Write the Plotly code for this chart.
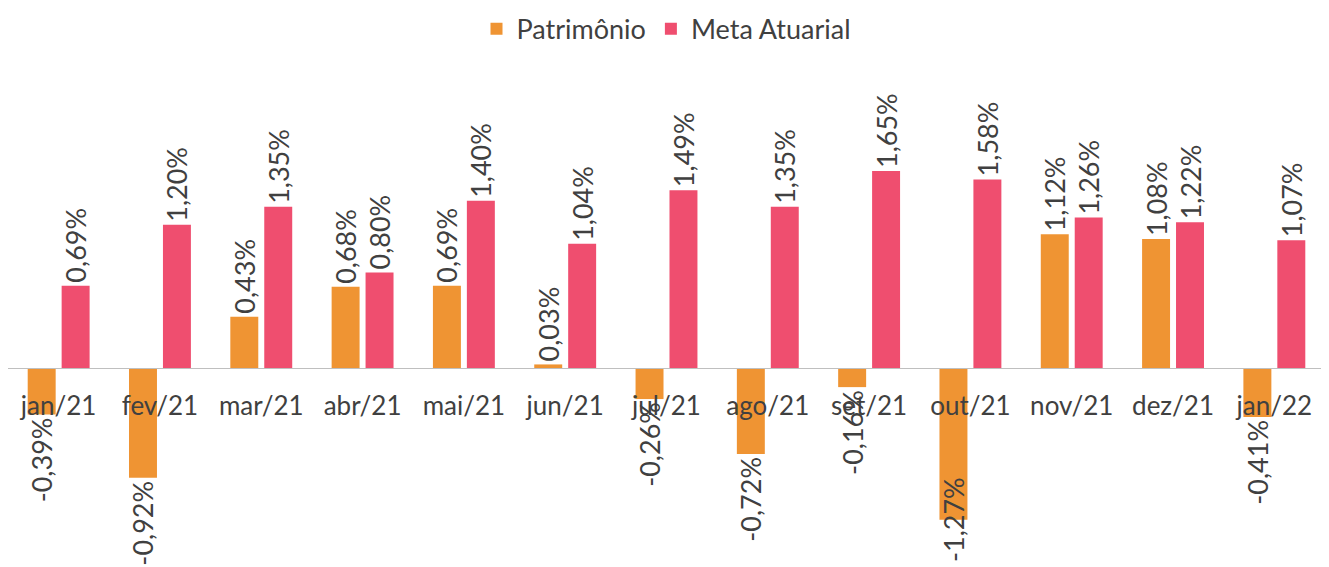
import plotly.graph_objects as go

categories = ["jan/21", "fev/21", "mar/21", "abr/21", "mai/21", "jun/21", "jul/21",
              "ago/21", "set/21", "out/21", "nov/21", "dez/21", "jan/22"]
patrimonio = [-0.39, -0.92, 0.43, 0.68, 0.69, 0.03, -0.26, -0.72, -0.16, -1.27, 1.12, 1.08, -0.41]
meta_atuarial = [0.69, 1.20, 1.35, 0.80, 1.40, 1.04, 1.49, 1.35, 1.65, 1.58, 1.26, 1.22, 1.07]

def fmt(v):
    return f"{v:.2f}".replace(".", ",") + "%"

FONT = "Lato"
TXT = "#404040"
FS_VAL = 27
FS_CAT = 26

# the deepest label would run off the chart; it is drawn as an annotation centred on the bar end
clip_idx = patrimonio.index(min(patrimonio))
pat_text = [fmt(v) if i != clip_idx else "" for i, v in enumerate(patrimonio)]

fig = go.Figure()
fig.add_trace(go.Bar(
    name="Patrimônio", x=categories, y=patrimonio,
    marker=dict(color="#EF9433", line=dict(width=0)),
    text=pat_text, textposition="outside", textangle=-90,
    constraintext="none",
    textfont=dict(family=FONT, size=FS_VAL, color=TXT), cliponaxis=False,
))
fig.add_trace(go.Bar(
    name="Meta Atuarial", x=categories, y=meta_atuarial,
    marker=dict(color="#EF4E6F", line=dict(width=0)),
    text=[fmt(v) for v in meta_atuarial], textposition="outside", textangle=-90,
    constraintext="none",
    textfont=dict(family=FONT, size=FS_VAL, color=TXT), cliponaxis=False,
))

fig.add_annotation(
    x=categories[clip_idx], y=patrimonio[clip_idx], xref="x", yref="y",
    text=fmt(patrimonio[clip_idx]), showarrow=False, textangle=-90,
    xanchor="center", yanchor="middle", xshift=-17, yshift=0,
    font=dict(family=FONT, size=FS_VAL, color=TXT),
)

ymin, ymax = -1.583, 2.58
zero_pos = (0 - ymin) / (ymax - ymin)

fig.update_layout(
    width=1329, height=567,
    margin=dict(l=0, r=12, t=52, b=18, autoexpand=False),
    paper_bgcolor="white", plot_bgcolor="white",
    barmode="group", bargap=0.33, bargroupgap=0.176,
    font=dict(family=FONT, size=FS_CAT, color=TXT),
    legend=dict(orientation="h", x=0.5, xanchor="center", y=1.062, yref="paper",
                yanchor="middle", font=dict(family=FONT, size=27, color=TXT),
                itemwidth=30, traceorder="normal"),
    showlegend=True,
)
fig.update_xaxes(
    anchor="free", position=zero_pos, showline=True, linecolor="#BFBFBF", linewidth=1,
    ticks="", showgrid=False, zeroline=False, automargin=False,
    tickfont=dict(family=FONT, size=FS_CAT, color=TXT), ticklabelstandoff=15,
)
fig.update_yaxes(range=[ymin, ymax], visible=False, showgrid=False, zeroline=False)

fig.write_html("out.html")
